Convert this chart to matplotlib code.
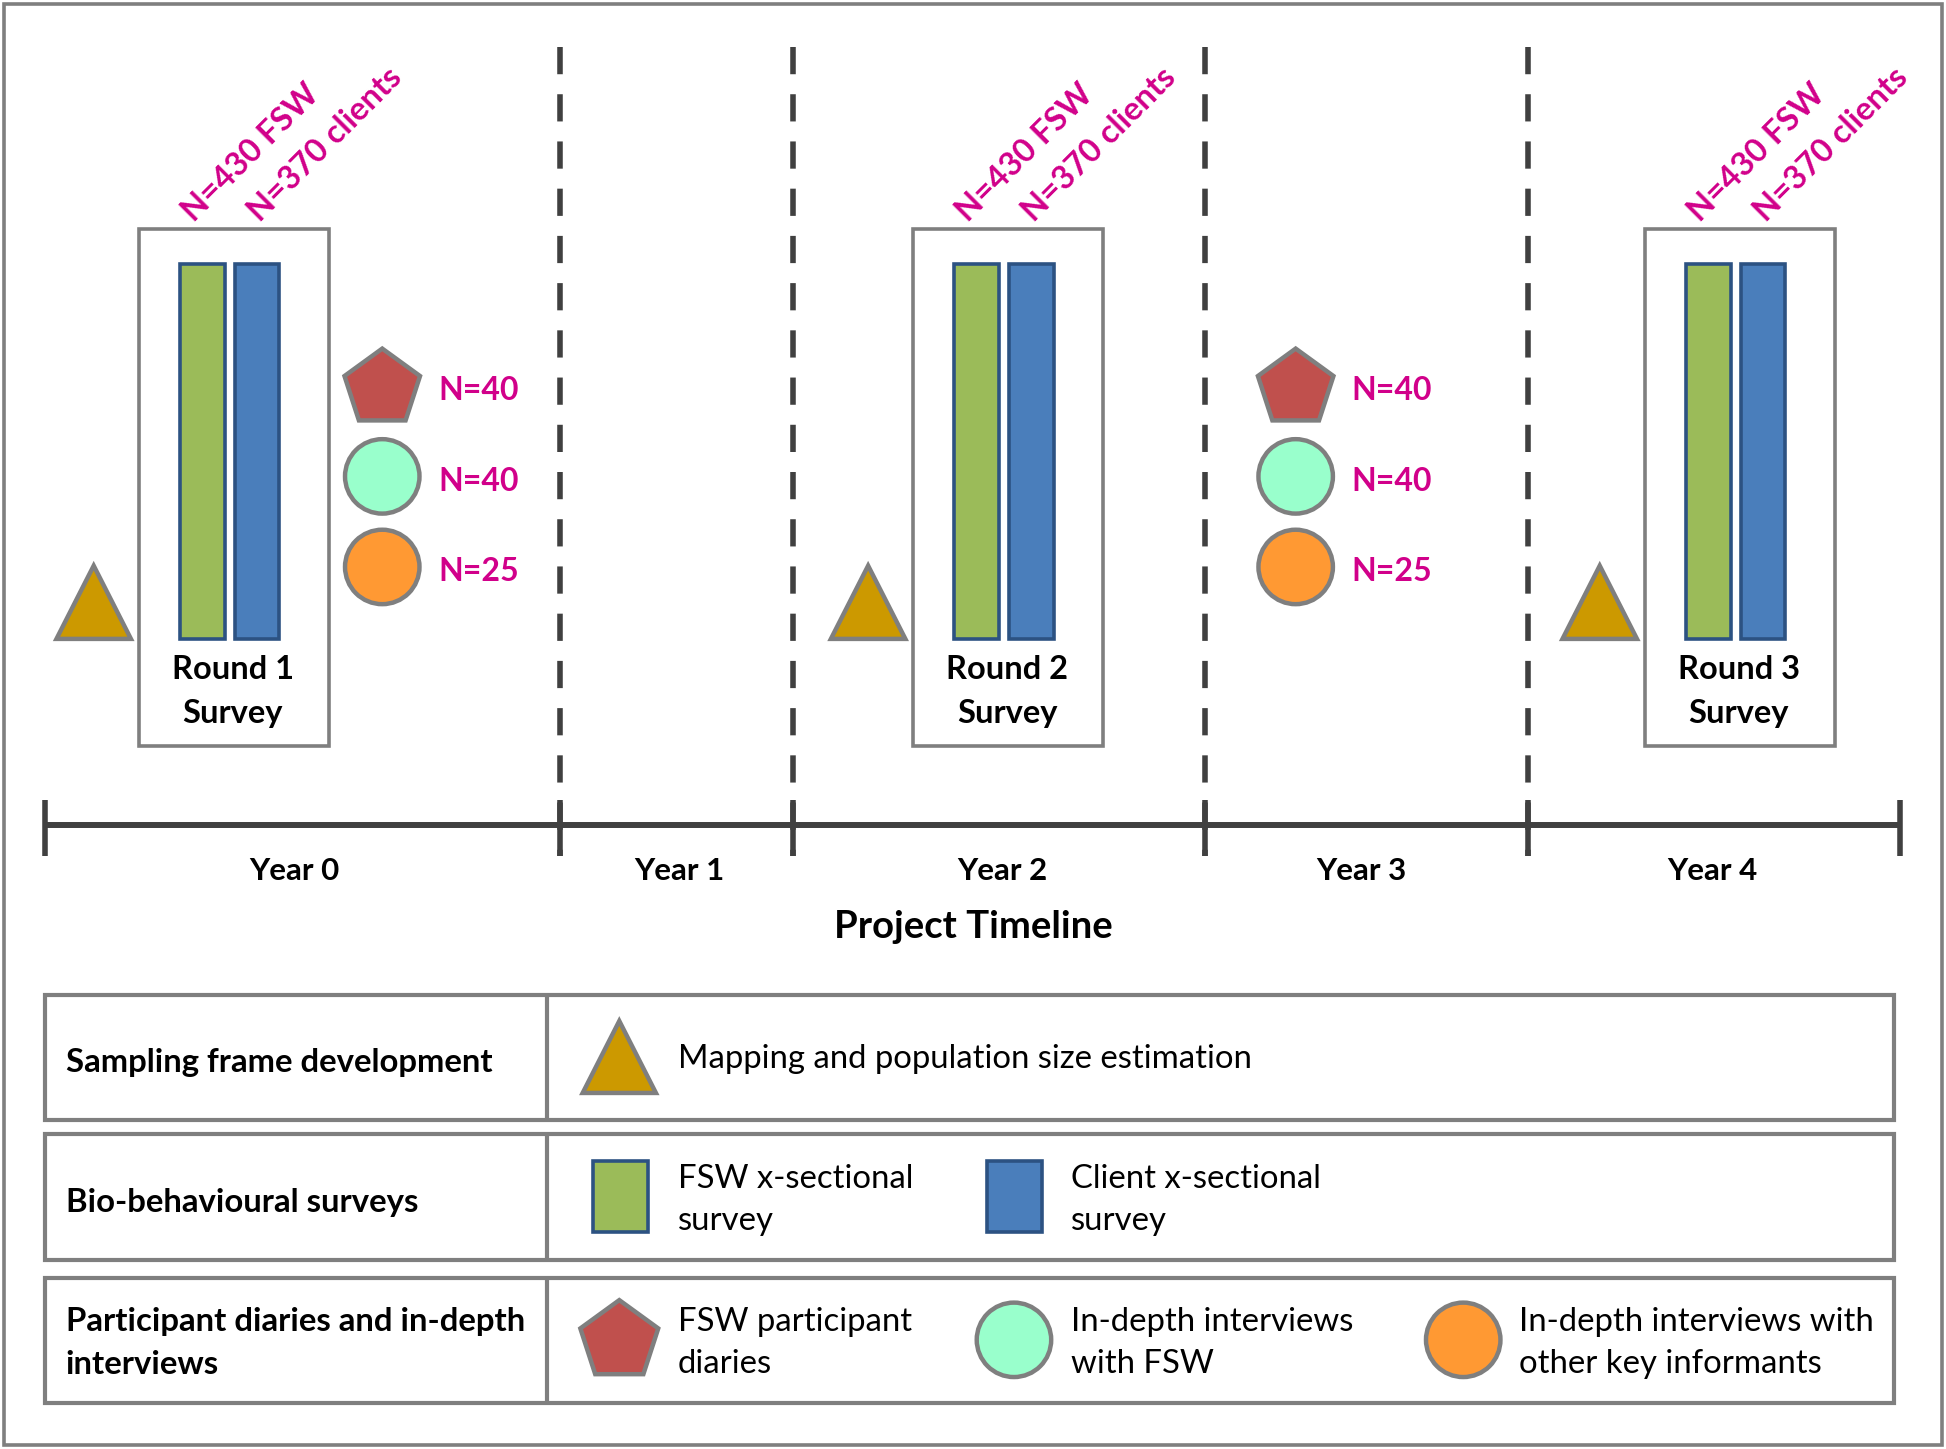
import matplotlib
matplotlib.use('Agg')
import matplotlib.pyplot as plt
from matplotlib.patches import Rectangle, Polygon, RegularPolygon, Ellipse
import numpy as np

plt.rcParams['font.family'] = ['Lato', 'DejaVu Sans']

# ---------------- data (text content) ----------------
years = ['Year 0', 'Year 1', 'Year 2', 'Year 3', 'Year 4']
rounds = ['Round 1', 'Round 2', 'Round 3']
survey_word = 'Survey'
survey_n = ['N=430 FSW', 'N=370 clients']
qual_n = ['N=40', 'N=40', 'N=25']
timeline_title = 'Project Timeline'
row_labels = [['Sampling frame development'],
              ['Bio-behavioural surveys'],
              ['Participant diaries and in-depth', 'interviews']]
legend_rows = [
    [('triangle', ['Mapping and population size estimation'])],
    [('fsw', ['FSW x-sectional', 'survey']), ('client', ['Client x-sectional', 'survey'])],
    [('pentagon', ['FSW participant', 'diaries']), ('mint', ['In-depth interviews', 'with FSW']),
     ('orange', ['In-depth interviews with', 'other key informants'])],
]

# ---------------- layout (canvas units, 1568 x 1168) ----------------
W, H = 1568, 1168
year_edges = [36, 451, 639, 971, 1231, 1531]
year_label_x = [237, 547, 808, 1097, 1380]
timeline_y = 665
round_box_x = [112, 736, 1325.5]
qual_group_x = [308, 1044]

# ---------------- styles ----------------
GRAY = '#7f7f7f'
DARK = '#404040'
MAGENTA = '#d1008a'
GREEN = '#9bbb59'
BLUE = '#4a7ebb'
BAR_EDGE = '#2c5282'
TRI = '#cc9900'
PENT = '#c0504d'
MINT = '#99ffcc'
ORANGE = '#ff9933'
SHAPE_LW = 3.2
FS_YEAR = 22.5
FS_TITLE = 27.5
FS_ROUND = 23.5
FS_N = 23
FS_ROT = 23.5
FS_LEG = 23.7

fig = plt.figure(figsize=(19.46, 14.49), dpi=100)
ax = fig.add_axes([0, 0, 1, 1])
ax.set_xlim(0, W)
ax.set_ylim(H, 0)
ax.axis('off')

# outer border
ax.add_patch(Rectangle((3, 3), W - 6, H - 6, fill=False, ec=GRAY, lw=2.6))

# dashed year separators
for x in year_edges[1:-1]:
    ax.plot([x, x], [38, 690], color=DARK, lw=4, linestyle=(0, (4.9, 3.6)), solid_capstyle='butt')

# timeline
ax.plot([year_edges[0], year_edges[-1]], [timeline_y, timeline_y], color=DARK, lw=4.3, solid_capstyle='butt')
for x in year_edges:
    ax.plot([x, x], [645, 690], color=DARK, lw=4, solid_capstyle='butt')
for lab, x in zip(years, year_label_x):
    ax.text(x, 702, lab, ha='center', va='center', fontsize=FS_YEAR, fontweight='bold', color='black')
ax.text(784, 747, timeline_title, ha='center', va='center', fontsize=FS_TITLE, fontweight='bold', color='black')


def triangle(cx, apex_y, base_y, half):
    return Polygon([[cx, apex_y], [cx + half, base_y], [cx - half, base_y]], closed=True,
                   fc=TRI, ec=GRAY, lw=SHAPE_LW, joinstyle='miter')


def pentagon(cx, cy, r):
    return RegularPolygon((cx, cy), 5, radius=r, orientation=np.pi, fc=PENT, ec=GRAY, lw=SHAPE_LW,
                          joinstyle='miter')


def circle(cx, cy, r, fc):
    return Ellipse((cx, cy), 2 * r, 2 * r, fc=fc, ec=GRAY, lw=SHAPE_LW)


# rounds
for lab, bx in zip(rounds, round_box_x):
    ax.add_patch(Rectangle((bx, 184.5), 153, 416.5, fill=False, ec=GRAY, lw=2.6, joinstyle='miter'))
    ax.add_patch(Rectangle((bx + 33, 213), 36, 302, fc=GREEN, ec=BAR_EDGE, lw=2.6))
    ax.add_patch(Rectangle((bx + 77, 213), 36, 302, fc=BLUE, ec=BAR_EDGE, lw=2.6))
    ax.add_patch(triangle(bx - 36.5, 456, 515, 30))
    ax.text(bx + 75.5, 540, lab, ha='center', va='center', fontsize=FS_ROUND, fontweight='bold')
    ax.text(bx + 75.5, 575, survey_word, ha='center', va='center', fontsize=FS_ROUND, fontweight='bold')
    for s, dx in zip(survey_n, [44, 97.5]):
        ax.text(bx + dx, 180, s, rotation=45, rotation_mode='anchor', ha='left', va='baseline',
                fontsize=FS_ROT, fontweight='bold', color=MAGENTA)

# qualitative groups
qual_y = [313, 384, 457]
for gx in qual_group_x:
    ax.add_patch(pentagon(gx, qual_y[0], 32))
    ax.add_patch(circle(gx, qual_y[1], 30, MINT))
    ax.add_patch(circle(gx, qual_y[2], 30, ORANGE))
    for s, y in zip(qual_n, [315, 388, 461]):
        ax.text(gx + 45, y, s, ha='left', va='center', fontsize=FS_N, fontweight='bold', color=MAGENTA)

# legend table
row_y = [(802, 903), (914, 1016), (1030, 1131)]
divider_x = 441
icon_x = [499, 817, 1179]
text_x = [546, 863, 1224]
for (y0, y1), labels, items in zip(row_y, row_labels, legend_rows):
    ax.add_patch(Rectangle((36, y0), 1490, y1 - y0, fill=False, ec=GRAY, lw=3, joinstyle='miter'))
    ax.plot([divider_x, divider_x], [y0, y1], color=GRAY, lw=3, solid_capstyle='butt')
    cy = (y0 + y1) / 2
    if len(labels) == 1:
        ax.text(53, cy + 4, labels[0], ha='left', va='center', fontsize=FS_LEG, fontweight='bold')
    else:
        for k, l in enumerate(labels):
            ax.text(53, cy - 15 + 34 * k, l, ha='left', va='center', fontsize=FS_LEG, fontweight='bold')
    for j, (kind, lines) in enumerate(items):
        ix = icon_x[j]
        if kind == 'triangle':
            ax.add_patch(triangle(ix, 823, 881, 29.5))
        elif kind == 'fsw':
            ax.add_patch(Rectangle((ix - 21.5, 936), 45, 57, fc=GREEN, ec=BAR_EDGE, lw=2.6))
        elif kind == 'client':
            ax.add_patch(Rectangle((ix - 22, 936), 45, 57, fc=BLUE, ec=BAR_EDGE, lw=2.6))
        elif kind == 'pentagon':
            ax.add_patch(pentagon(ix, 1081, 33))
        elif kind == 'mint':
            ax.add_patch(circle(ix, 1080, 30, MINT))
        elif kind == 'orange':
            ax.add_patch(circle(ix, 1080, 30, ORANGE))
        if len(lines) == 1:
            ax.text(text_x[j], cy + 1, lines[0], ha='left', va='center', fontsize=FS_LEG)
        else:
            for k, l in enumerate(lines):
                ax.text(text_x[j], cy - 15 + 34 * k, l, ha='left', va='center', fontsize=FS_LEG)

fig.savefig('out.png', dpi=100)
